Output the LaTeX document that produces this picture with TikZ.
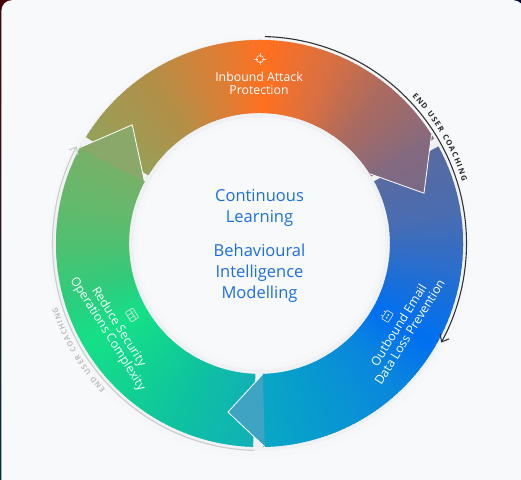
\documentclass[tikz,border=0pt]{standalone}
\usepackage{fontspec}
\setmainfont{Open Sans}
\usetikzlibrary{arrows.meta,decorations.text}

\definecolor{paper}{HTML}{F8F9FB}
\definecolor{centerblue}{HTML}{1C6FDF}
\definecolor{olive}{HTML}{96A05A}
\definecolor{ochre}{HTML}{B09048}
\definecolor{amber}{HTML}{D88038}
\definecolor{flame}{HTML}{FF7020}
\definecolor{clay}{HTML}{DC7040}
\definecolor{rosewood}{HTML}{A86A62}
\definecolor{mauve}{HTML}{856A80}
\definecolor{dusk}{HTML}{786A88}
\definecolor{slate}{HTML}{5A6AA0}
\definecolor{steel}{HTML}{4A6CB0}
\definecolor{azure}{HTML}{0070F0}
\definecolor{ocean}{HTML}{0A88DC}
\definecolor{lagoon}{HTML}{0898D0}
\definecolor{teal}{HTML}{08A8C4}
\definecolor{tealhead}{HTML}{3FA3C3}
\definecolor{aqua}{HTML}{10B0B8}
\definecolor{jade}{HTML}{0EC2A0}
\definecolor{mint}{HTML}{12D490}
\definecolor{spring}{HTML}{14E088}
\definecolor{fern}{HTML}{30CC7C}
\definecolor{leaf}{HTML}{50C070}
\definecolor{moss}{HTML}{68B86C}
\definecolor{sage}{HTML}{78B068}
\definecolor{sagehead}{HTML}{8AA86A}

\tikzset{
    x=1pt, y=1pt,
    bandtext/.style={white, align=center, font=\fontsize{12.3}{13}\selectfont},
    centertext/.style={centerblue, align=center, font=\fontsize{16.5}{21}\selectfont},
    iconline/.style={white!90!black, draw opacity=.9, line width=.7pt},
    headedge/.style={white, line width=.8pt, line join=miter},
    coacharc/.style={line width=1.1pt, -{Straight Barb[length=6pt,width=10pt]}}
}

% band between two angles
\newcommand{\bandpath}[2]{(#1:203.5) arc[start angle=#1,end angle=#2,radius=203.5]
    -- (#2:130.5) arc[start angle=#2,end angle=#1,radius=130.5] -- cycle}

% colour fan, list of angle/angle/colour/colour
\newcommand{\colorfan}[1]{%
    \foreach \aa/\ab/\ca/\cb in {#1} {
        \foreach \s in {0,...,19} {
            \pgfmathsetmacro{\mixpct}{100-\s*100/19}
            \pgfmathsetmacro{\wa}{\aa+(\ab-\aa)*\s/20}
            \pgfmathsetmacro{\wb}{\aa+(\ab-\aa)*(\s+1.6)/20}
            \fill[\ca!\mixpct!\cb] (0,0) -- (\wa:240) -- (\wb:240) -- cycle;
        }
    }}

\begin{document}
\begin{tikzpicture}

    \useasboundingbox (-259.5,-235.5) rectangle (261.5,243.5);

    % screenshot edge and card
    \shade[top color=black!55!red!60!black, bottom color=teal!30!black]
        (-259.5,-235.5) rectangle (261.5,243.5);
    \fill[black!80!blue] (240,222) rectangle (261.5,243.5);
    \fill[paper] (-258,-240) -- (-258,233) arc[start angle=180,end angle=90,radius=10.3]
        -- (254,243.3) arc[start angle=90,end angle=0,radius=10] -- (264,-240) -- cycle;

    % soft shadows
    \fill[paper!99!black] (0,-3) circle[radius=211];
    \fill[paper!97!black] (0,-1.5) circle[radius=206];
    \fill[paper!97!black] (0,0) circle[radius=133];
    \fill[paper!99!black] (0,0) circle[radius=126];
    \fill[paper] (0,0) circle[radius=121];

    % bands
    \begin{scope}
        \clip \bandpath{-91.8}{-208.5};
        \colorfan{-91/-115/aqua/jade, -115/-135/jade/mint, -135/-150/mint/spring,
            -150/-165/spring/fern, -165/-180/fern/leaf, -180/-195/leaf/moss, -195/-209/moss/sage}
    \end{scope}
    \begin{scope}
        \clip \bandpath{28.5}{-89};
        \colorfan{29/10/slate/steel, 10/-30/steel/azure, -30/-48/azure/ocean,
            -48/-68/ocean/lagoon, -68/-90/lagoon/teal}
    \end{scope}
    \begin{scope}
        \clip \bandpath{148.5}{31};
        \colorfan{149/125/olive/ochre, 125/105/ochre/amber, 105/88/amber/flame,
            88/70/flame/clay, 70/50/clay/rosewood, 50/30/rosewood/mauve}
    \end{scope}

    % arrow heads on top of the next band
    \begin{scope}
        \clip (32.3:203.5) -- (17:172) -- (32.3:130.5) -- cycle;
        \colorfan{33/14/mauve/dusk}
    \end{scope}
    \draw[headedge] (32.3:203.5) -- (17:172) -- (32.3:130.5);
    \fill[sagehead] (152:204) -- (137:174) -- (151.5:131) -- cycle;
    \draw[headedge] (152:204) -- (137:174) -- (151.5:131);
    \fill[tealhead] (-88.5:203.5) -- (-100.6:171.5) -- (-88.5:130.5) -- cycle;
    \draw[headedge] (-88.5:203.5) -- (-100.6:171.5) -- (-88.5:130.5);

    % coaching arcs
    \draw[coacharc, black!80] (88.5:207) arc[start angle=88.5,end angle=-28.6,radius=207];
    \draw[coacharc, black!20] (-91.5:207) arc[start angle=-91.5,end angle=-208,radius=207];
    \path[decorate, decoration={text along path, text align={fit to path},
            text={|\color{black!85}\fontsize{7.6}{8}\selectfont\bfseries|END USER COACHING}}]
        (44:212) arc[start angle=44,end angle=17,radius=212];
    \path[decorate, decoration={text along path, text align={fit to path},
            text={|\color{black!25}\fontsize{7.6}{8}\selectfont\bfseries|END USER COACHING}}]
        (-136.5:212) arc[start angle=-136.5,end angle=-162.6,radius=212];

    % labels
    \node[bandtext] (inboundlabel) at (-0.5,160.5) {Inbound Attack\\Protection};
    \node[bandtext, rotate=58] (outboundlabel) at (144.5,-85) {Outbound Email\\Data Loss Prevention};
    \node[bandtext, rotate=-58] (reducelabel) at (-146.5,-87) {Reduce Security\\Operations Complexity};
    \node[centertext] (learninglabel) at (0,35.5) {Continuous\\Learning};
    \node[centertext] (modellinglabel) at (0,-30) {Behavioural\\Intelligence\\Modelling};

    % icons
    \begin{scope}[shift={(0.5,184.5)}]
        \draw[iconline] (0,0) circle[radius=3.6];
        \foreach \t in {0,90,180,270}
            \draw[iconline] (\t:1.8) -- (\t:6);
    \end{scope}
    \begin{scope}[shift={(-127.5,-71.5)}, rotate=-57, scale=1.25]
        \draw[iconline, rounded corners=.8pt] (-4.5,-3.5) rectangle (4.5,3.5);
        \draw[iconline] (-4.5,1) -- (4.5,1) (-1.5,1) -- (-1.5,-3.5) (1.5,1) -- (1.5,-3.5);
    \end{scope}
    \begin{scope}[shift={(127.5,-72.5)}, rotate=57, scale=1.25]
        \draw[iconline, rounded corners=.8pt] (-4,-3.5) rectangle (4,2.5);
        \draw[iconline] (-2,2.5) -- (-2,4.5) (2,2.5) -- (2,4.5) (-1.2,-.5) circle[radius=.5] (1.2,-.5) circle[radius=.5];
    \end{scope}

\end{tikzpicture}
\end{document}
